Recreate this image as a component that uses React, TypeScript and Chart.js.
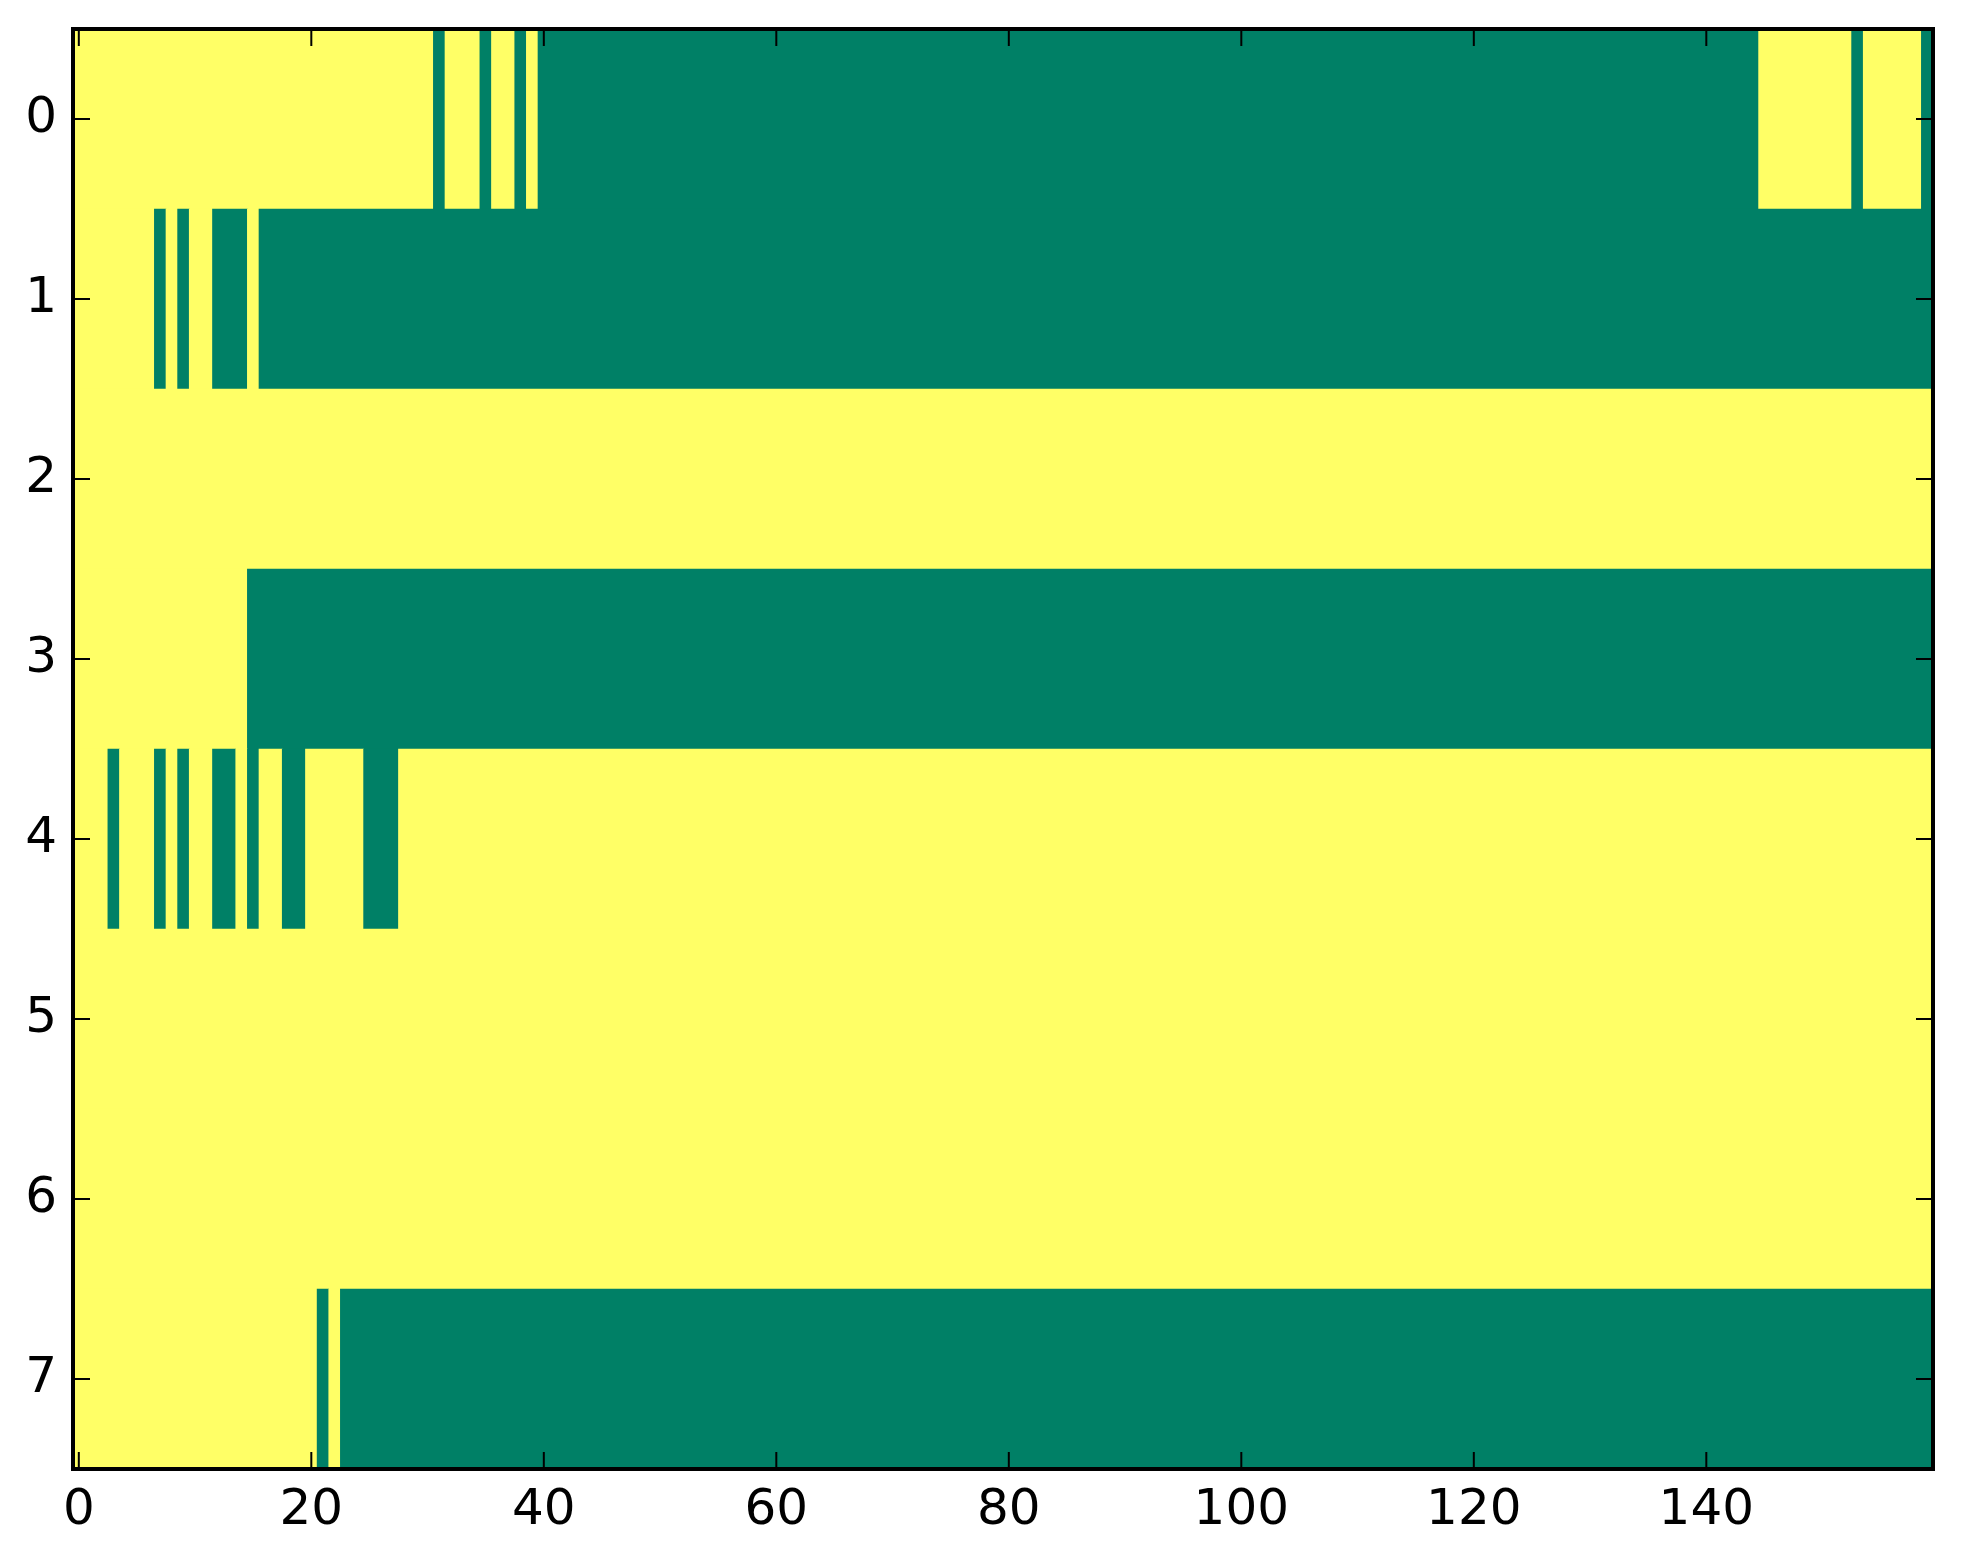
import React, { useEffect, useRef } from "react";
import { Chart, registerables } from "chart.js";

Chart.register(...registerables);

// Row labels (top to bottom) and x tick labels
const categories = ["0", "1", "2", "3", "4", "5", "6", "7"];
const xTicks = [0, 20, 40, 60, 80, 100, 120, 140];
const nCols = 160;

// Runs per row: [firstColumn, lastColumn, value] (1 = yellow, 0 = green)
type Run = [number, number, number];
const row0: Run[] = [[0, 30, 1], [31, 31, 0], [32, 34, 1], [35, 35, 0], [36, 37, 1], [38, 38, 0], [39, 39, 1], [40, 144, 0], [145, 152, 1], [153, 153, 0], [154, 158, 1], [159, 159, 0]];
const row1: Run[] = [[0, 6, 1], [7, 7, 0], [8, 8, 1], [9, 9, 0], [10, 11, 1], [12, 14, 0], [15, 15, 1], [16, 159, 0]];
const row2: Run[] = [[0, 159, 1]];
const row3: Run[] = [[0, 14, 1], [15, 159, 0]];
const row4: Run[] = [[0, 2, 1], [3, 3, 0], [4, 6, 1], [7, 7, 0], [8, 8, 1], [9, 9, 0], [10, 11, 1], [12, 13, 0], [14, 14, 1], [15, 15, 0], [16, 17, 1], [18, 19, 0], [20, 24, 1], [25, 27, 0], [28, 159, 1]];
const row5: Run[] = [[0, 159, 1]];
const row6: Run[] = [[0, 159, 1]];
const row7: Run[] = [[0, 20, 1], [21, 21, 0], [22, 22, 1], [23, 159, 0]];
const rows: Run[][] = [row0, row1, row2, row3, row4, row5, row6, row7];

const YELLOW = "#ffff66";
const GREEN = "#008066";
const FONT = { family: "'DejaVu Sans', sans-serif", size: 50 };

const framePlugin = {
  id: "frameTicks",
  afterDraw(chart: any) {
    const { ctx, chartArea: a, scales } = chart;
    const tl = 17;
    ctx.save();
    ctx.strokeStyle = "#000";
    ctx.lineWidth = 2;
    ctx.beginPath();
    for (const t of scales.x.ticks) {
      const px = scales.x.getPixelForValue(t.value);
      ctx.moveTo(px, a.bottom);
      ctx.lineTo(px, a.bottom - tl);
      ctx.moveTo(px, a.top);
      ctx.lineTo(px, a.top + tl);
    }
    scales.y.ticks.forEach((_t: any, i: number) => {
      const py = scales.y.getPixelForTick(i);
      ctx.moveTo(a.left, py);
      ctx.lineTo(a.left + tl, py);
      ctx.moveTo(a.right, py);
      ctx.lineTo(a.right - tl, py);
    });
    ctx.stroke();
    ctx.lineWidth = 4;
    ctx.strokeRect(a.left, a.top, a.right - a.left, a.bottom - a.top);
    ctx.restore();
  },
};

export default function App() {
  const ref = useRef<HTMLCanvasElement | null>(null);

  useEffect(() => {
    const data: any[] = [];
    const colors: string[] = [];
    rows.forEach((runs, r) => {
      runs.forEach(([a, b, v]) => {
        data.push({ x: [a - 0.5, b + 0.5], y: categories[r] });
        colors.push(v === 1 ? YELLOW : GREEN);
      });
    });

    const chart = new Chart(ref.current as HTMLCanvasElement, {
      type: "bar",
      data: {
        labels: categories,
        datasets: [
          {
            data,
            backgroundColor: colors,
            borderWidth: 0,
            borderSkipped: false,
            barPercentage: 1,
            categoryPercentage: 1,
          } as any,
        ],
      },
      options: {
        indexAxis: "y",
        responsive: false,
        animation: false,
        devicePixelRatio: 1,
        layout: { padding: { top: 29, right: 30, left: 0, bottom: 0 } },
        plugins: { legend: { display: false }, tooltip: { enabled: false } },
        scales: {
          x: {
            type: "linear",
            min: -0.5,
            max: nCols - 0.5,
            grid: { display: false, drawTicks: false },
            border: { display: false },
            afterBuildTicks: (s: any) => {
              s.ticks = xTicks.map((v) => ({ value: v }));
            },
            afterFit: (s: any) => {
              s.height = 95;
              s.paddingLeft = 0;
              s.paddingRight = 0;
            },
            ticks: {
              font: FONT,
              color: "#000",
              padding: 12,
              maxRotation: 0,
              autoSkip: false,
              callback: (v: any) => String(v),
            },
          },
          y: {
            type: "category",
            labels: categories,
            offset: true,
            grid: { display: false, drawTicks: false },
            border: { display: false },
            afterFit: (s: any) => {
              s.width = 73;
              s.paddingTop = 0;
              s.paddingBottom = 0;
            },
            ticks: { font: FONT, color: "#000", padding: 16 },
          },
        },
      } as any,
      plugins: [framePlugin],
    });
    return () => chart.destroy();
  }, []);

  return (
    <div style={{ position: "fixed", left: 0, top: 0, width: 1963, height: 1564, background: "#fff" }}>
      <canvas ref={ref} width={1963} height={1564} />
    </div>
  );
}
